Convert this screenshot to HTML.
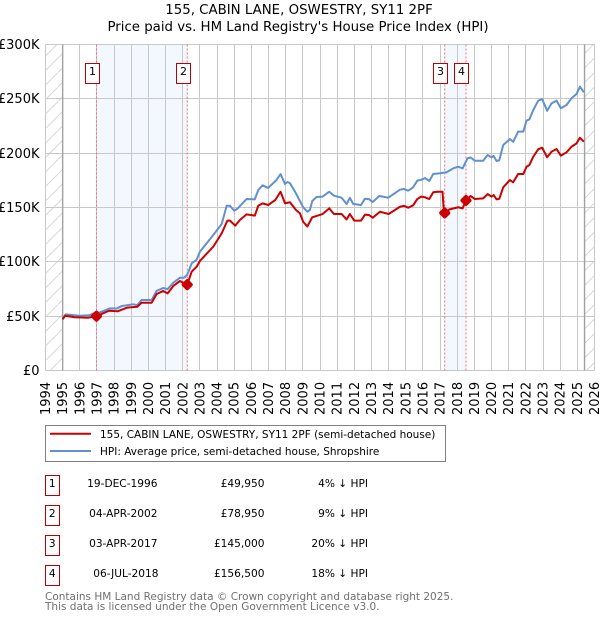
<!DOCTYPE html>
<html>
<head>
<meta charset="utf-8">
<style>
html,body{margin:0;padding:0;background:#fff;}
svg{display:block;}
text{font-family:"DejaVu Sans",sans-serif;fill:#000;}
</style>
</head>
<body>
<svg id="chart" xmlns="http://www.w3.org/2000/svg" width="600" height="620" viewBox="0 0 600 620">
<defs>
<pattern id="hatch" patternUnits="userSpaceOnUse" width="14.5" height="14.5">
<path d="M-1 15.5 L15.5 -1" stroke="#d8d8d8" stroke-width="1" fill="none"/>
</pattern>
</defs>
<text x="299" y="14" font-size="13.33" text-anchor="middle">155, CABIN LANE, OSWESTRY, SY11 2PF</text>
<text x="298" y="31" font-size="13.33" text-anchor="middle">Price paid vs. HM Land Registry's House Price Index (HPI)</text>
<g id="plot"></g>

<g>
<rect x="45.5" y="425.5" width="400" height="36" fill="#fff" stroke="#808080"/>
<line x1="50" x2="91" y1="433.7" y2="433.7" stroke="#cc0000" stroke-width="2"/>
<text x="100" y="438" font-size="10.5">155, CABIN LANE, OSWESTRY, SY11 2PF (semi-detached house)</text>
<line x1="50" x2="91" y1="451" y2="451" stroke="#6090d0" stroke-width="2"/>
<text x="100" y="455" font-size="10.5">HPI: Average price, semi-detached house, Shropshire</text>
</g>

<g>
<g>
<rect x="45.5" y="475.5" width="14" height="20" fill="#fff" stroke="#bb0000"/>
<text x="52.3" y="487" font-size="10.6" text-anchor="middle">1</text>
<text x="157.5" y="487" font-size="10.6" text-anchor="end">19-DEC-1996</text>
<text x="264.5" y="487" font-size="10.6" text-anchor="end">£49,950</text>
<text x="368" y="487" font-size="10.6" text-anchor="end">4% ↓ HPI</text>
</g>
<g>
<rect x="45.5" y="505.5" width="14" height="20" fill="#fff" stroke="#bb0000"/>
<text x="52.3" y="517" font-size="10.6" text-anchor="middle">2</text>
<text x="157.5" y="517" font-size="10.6" text-anchor="end">04-APR-2002</text>
<text x="264.5" y="517" font-size="10.6" text-anchor="end">£78,950</text>
<text x="368" y="517" font-size="10.6" text-anchor="end">9% ↓ HPI</text>
</g>
<g>
<rect x="45.5" y="535.5" width="14" height="20" fill="#fff" stroke="#bb0000"/>
<text x="52.3" y="547" font-size="10.6" text-anchor="middle">3</text>
<text x="157.5" y="547" font-size="10.6" text-anchor="end">03-APR-2017</text>
<text x="264.5" y="547" font-size="10.6" text-anchor="end">£145,000</text>
<text x="368" y="547" font-size="10.6" text-anchor="end">20% ↓ HPI</text>
</g>
<g>
<rect x="45.5" y="565.5" width="14" height="20" fill="#fff" stroke="#bb0000"/>
<text x="52.3" y="577" font-size="10.6" text-anchor="middle">4</text>
<text x="158.5" y="577" font-size="10.6" text-anchor="end">06-JUL-2018</text>
<text x="264.5" y="577" font-size="10.6" text-anchor="end">£156,500</text>
<text x="368" y="577" font-size="10.6" text-anchor="end">18% ↓ HPI</text>
</g>
</g>

<text x="45" y="600" font-size="10.5" style="fill:#707070">Contains HM Land Registry data © Crown copyright and database right 2025.</text>
<text x="45" y="610" font-size="10.5" style="fill:#707070">This data is licensed under the Open Government Licence v3.0.</text>
</svg>

<script>
var yearTicks = [1994,1995,1996,1997,1998,1999,2000,2001,2002,2003,2004,2005,2006,2007,2008,2009,2010,2011,2012,2013,2014,2015,2016,2017,2018,2019,2020,2021,2022,2023,2024,2025,2026];
var valueTicks = [0,50,100,150,200,250,300];
var valueTickLabels = ['£0','£50K','£100K','£150K','£200K','£250K','£300K'];
var dataStart = [1995.0];
var dataEnd = [2025.42];

var saleDates = [1996.97,2002.26,2017.27,2018.51];
var salePrices = [49.95,78.95,145,156.5];
var saleLabels = ['1','2','3','4'];

var hpiDates = [1995.0,1995.18,1995.43,1996.0,1996.6,1996.88,1997.18,1997.76,1998.15,1998.44,1999.1,1999.35,1999.6,2000.19,2000.48,2000.86,2001.12,2001.45,2001.84,2002.07,2002.26,2002.52,2002.81,2003.0,2003.78,2004.27,2004.56,2004.75,2005.0,2005.2,2005.43,2005.72,2006.2,2006.4,2006.65,2006.98,2007.43,2007.7,2007.96,2008.1,2008.25,2008.6,2009.02,2009.26,2009.41,2009.55,2009.8,2010.15,2010.54,2010.81,2011.26,2011.55,2011.74,2011.94,2012.39,2012.62,2012.87,2013.07,2013.45,2013.98,2014.3,2014.66,2014.9,2015.14,2015.43,2015.67,2015.9,2016.12,2016.37,2016.6,2017.0,2017.38,2017.8,2018.06,2018.31,2018.6,2018.78,2019.03,2019.51,2019.77,2020.0,2020.12,2020.29,2020.45,2020.68,2021.07,2021.26,2021.55,2021.85,2022.04,2022.2,2022.43,2022.72,2022.95,2023.05,2023.24,2023.5,2023.79,2024.04,2024.37,2024.66,2024.95,2025.15,2025.38];
var hpiValues = [48,51.7,51.3,50.4,51,53.2,53.5,57.2,57,59.3,60.9,60.2,64.9,64.9,73.4,75.9,74.9,80.8,85.4,85.4,88,98.6,102,109.3,124.7,134.8,151.6,151.6,147,149,153,157.8,157.5,166,170.4,168,174.7,180.8,171.6,173.5,172.3,163,150.2,146.1,147.7,156,159.7,160,164.5,160.9,159,153.2,158.9,153.2,152.3,158.1,157.6,155,160.6,159,162.5,166.4,167,165.5,168.6,174.7,175.5,177.1,174.4,180.8,181.5,182.4,186.3,187.5,186,195.3,196,193,193,198.3,196.2,197.5,192.8,193.5,207.5,213,210.5,219.8,219.8,230,231,239.7,248.3,249.8,246,239,245.9,248.3,241.3,244.3,250.5,254.4,261.2,256];

var priceDates = [1995.0,1995.15,1995.7,1996.5,1996.97,1997.7,1998.2,1998.75,1999.35,1999.6,2000.19,2000.48,2000.86,2001.12,2001.45,2001.84,2002.26,2002.52,2002.81,2003.0,2003.78,2004.27,2004.6,2004.75,2005.06,2005.33,2005.72,2006.2,2006.4,2006.65,2006.98,2007.4,2007.7,2007.96,2008.25,2008.6,2008.83,2009.02,2009.26,2009.55,2010.15,2010.54,2010.81,2011.26,2011.55,2011.74,2012.0,2012.39,2012.62,2012.87,2013.07,2013.5,2014.0,2014.3,2014.66,2014.9,2015.14,2015.43,2015.67,2015.9,2016.12,2016.37,2016.6,2016.85,2017.14,2017.2,2017.27,2017.55,2018.06,2018.31,2018.51,2018.78,2019.03,2019.51,2019.77,2020.0,2020.12,2020.29,2020.45,2020.68,2021.07,2021.26,2021.55,2021.85,2022.04,2022.2,2022.43,2022.72,2022.95,2023.24,2023.5,2023.79,2024.04,2024.37,2024.66,2024.95,2025.15,2025.38];
var priceValues = [47.1,50.4,49,48.6,49.95,55,54.5,57.8,58.7,62.4,62.4,70.4,73.2,71,77.8,82.4,78.95,90.9,95.5,100.8,114,126.2,137.9,137.9,133.3,138.5,143.7,142.5,151.6,153.8,152.3,157,164.5,153.9,154.8,147.7,144.7,136.9,132.5,141,144,149.2,144,144,139,144,137.9,137.9,143.4,143,140.6,146.1,144,147,150.7,151.5,149.8,152,157.8,160,159.4,157.8,164,164.5,164.5,150.7,145,148.3,150.2,149.2,156.5,160.6,157.8,158.4,162.4,160,161.5,157.5,158,168.6,175.3,173.2,180.8,180.8,187.5,189,196.7,203.5,205,196.2,201.4,203.8,197.7,200.8,205.9,209,214.2,210.6];

var SVGNS = 'http://www.w3.org/2000/svg';
var plot = document.getElementById('plot');
var plotLeft = 45.5, plotRight = 594.5, plotTop = 44.5, plotBottom = 370.5;
var axisYearMin = 1994, axisYearMax = 2026, axisValueMax = 300;

function xScale(year) {
  return plotLeft + (year - axisYearMin) / (axisYearMax - axisYearMin) * (plotRight - plotLeft);
}
function yScale(value) {
  return plotBottom - value / axisValueMax * (plotBottom - plotTop);
}
function make(tag, attrs, parent) {
  var el = document.createElementNS(SVGNS, tag);
  for (var k in attrs) { el.setAttribute(k, attrs[k]); }
  (parent || plot).appendChild(el);
  return el;
}
function pathFrom(dates, values) {
  var d = '';
  for (var i = 0; i < dates.length; i++) {
    d += (i ? 'L' : 'M') + xScale(dates[i]).toFixed(2) + ' ' + yScale(values[i]).toFixed(2);
  }
  return d;
}
var el;

el = make('rect', {x: plotLeft, y: plotTop, width: xScale(dataStart[0]) - plotLeft, height: plotBottom - plotTop, fill: 'url(#hatch)'});


el = make('rect', {x: xScale(dataEnd[0]), y: plotTop, width: plotRight - xScale(dataEnd[0]), height: plotBottom - plotTop, fill: 'url(#hatch)'});



el = make('rect', {x: xScale(saleDates[0]), y: plotTop, width: xScale(saleDates[1]) - xScale(saleDates[0]), height: plotBottom - plotTop, fill: '#f3f7fe'});


el = make('rect', {x: xScale(saleDates[2]), y: plotTop, width: xScale(saleDates[3]) - xScale(saleDates[2]), height: plotBottom - plotTop, fill: '#f3f7fe'});



yearTicks.forEach(function (yr) {
  var px = Math.round(xScale(yr) - 0.5) + 0.5;
  var g = make('line', {x1: px, x2: px, y1: plotTop, y2: plotBottom, stroke: '#c8c8c8', 'stroke-width': 1});
  
  
  var t = make('text', {transform: 'translate(' + (xScale(yr) + 4.5) + ',415) rotate(-90)', 'font-size': 13});
  
  
  t.textContent = yr;
});
valueTicks.forEach(function (v, i) {
  var py = Math.round(yScale(v) - 0.5) + 0.5;
  var g = make('line', {x1: plotLeft, x2: plotRight, y1: py, y2: py, stroke: '#c8c8c8', 'stroke-width': 1});
  
  
  var t = make('text', {x: 39.5, y: py + 4.5, 'font-size': 13, 'text-anchor': 'end'});
  
  
  t.textContent = valueTickLabels[i];
});

el = make('line', {x1: xScale(dataStart[0]), x2: xScale(dataStart[0]), y1: plotTop, y2: plotBottom, stroke: '#a0a0a0', 'stroke-width': 1.4});


el = make('line', {x1: xScale(dataEnd[0]), x2: xScale(dataEnd[0]), y1: plotTop, y2: plotBottom, stroke: '#a0a0a0', 'stroke-width': 1.4});



saleDates.forEach(function (d) {
  var l = make('line', {x1: xScale(d), x2: xScale(d), y1: plotTop, y2: plotBottom, stroke: '#f07078', 'stroke-width': 1, 'stroke-dasharray': '2 2'});
  
  
});

el = make('path', {d: pathFrom(hpiDates, hpiValues), fill: 'none', stroke: '#6090d0', 'stroke-width': 2, 'stroke-linejoin': 'round'});


el = make('path', {d: pathFrom(priceDates, priceValues), fill: 'none', stroke: '#cc0000', 'stroke-width': 2, 'stroke-linejoin': 'round'});



saleDates.forEach(function (d, i) {
  var cx = xScale(d), cy = yScale(salePrices[i]);
  var m = make('rect', {x: cx - 4.5, y: cy - 4.5, width: 9, height: 9, rx: 2, fill: '#cc0000', transform: 'rotate(45 ' + cx + ' ' + cy + ')'});
  
  
  var bx = Math.round(cx - 0.5) + 0.5 - 11;
  var b = make('rect', {x: i === 0 ? 85.5 : bx, y: 63.5, width: 14, height: 20, fill: '#fff', stroke: '#bb0000'});
  
  
  var t = make('text', {x: (i === 0 ? 85.5 : bx) + 7, y: 75, 'font-size': 11, 'text-anchor': 'middle'});
  
  
  t.textContent = saleLabels[i];
});
</script>
</body>
</html>
